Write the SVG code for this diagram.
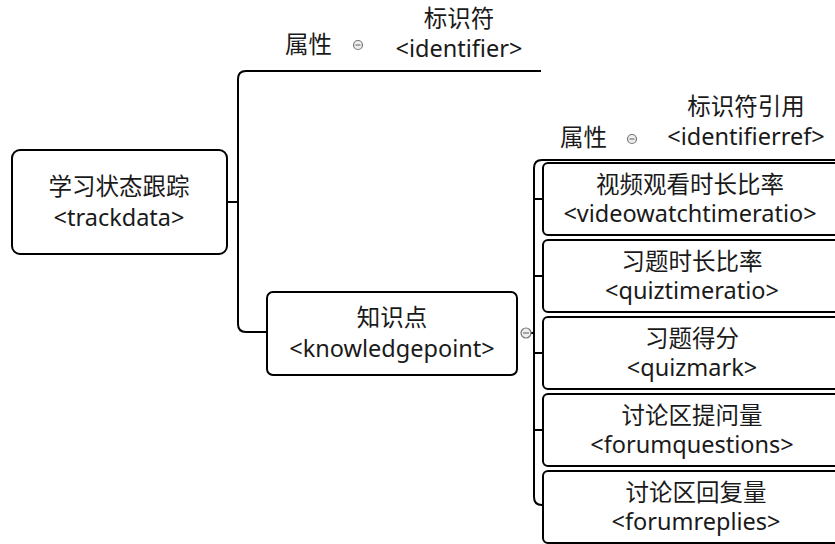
<svg xmlns="http://www.w3.org/2000/svg" width="835" height="544" viewBox="0 0 835 544">
<style>
.box{fill:#fff;stroke:#000;stroke-width:2}
.ln{fill:none;stroke:#000;stroke-width:2}
.t{font-family:"Noto Sans","Noto Sans CJK SC",sans-serif;font-size:23.5px;fill:#1a1a1a;text-anchor:middle}
.tl{font-family:"Noto Sans","Noto Sans CJK SC",sans-serif;font-size:23.5px;fill:#1a1a1a}
.tog{fill:#eee;stroke:#777;stroke-width:1.2}
.tm{stroke:#777;stroke-width:1.2}
</style>
<rect width="835" height="544" fill="#fff"/>
<g id="connectors">
<path class="ln" d="M227 202 H238"/>
<path class="ln" d="M541 71 H246 Q238 71 238 79 V324 Q238 332 246 332 H267"/>
<path class="ln" d="M531 333 H534"/>
<path class="ln" d="M835 160 H542 Q534 160 534 168 V497 Q534 505 542 505 H543"/>
<path class="ln" d="M534 199 H543 M534 276 H543 M534 353 H543 M534 430 H543"/>
</g>
<g id="root">
<rect class="box" x="12" y="150" width="215" height="104" rx="8"/>
<text class="t" x="119" y="195">学习状态跟踪</text>
<text class="t" x="119" y="226">&lt;trackdata&gt;</text>
</g>
<g id="attr1">
<text class="tl" x="285" y="53">属性</text>
<circle class="tog" cx="358" cy="45" r="4.5"/>
<path class="tm" d="M355.5 45 H360.5"/>
<text class="t" x="459" y="27">标识符</text>
<text class="t" x="459" y="57">&lt;identifier&gt;</text>
</g>
<g id="knowledgepoint">
<rect class="box" x="267" y="292" width="250" height="83" rx="6"/>
<text class="t" x="392" y="326">知识点</text>
<text class="t" x="392" y="357">&lt;knowledgepoint&gt;</text>
<circle class="tog" cx="526" cy="333" r="5"/>
<path class="tm" d="M523 333 H529"/>
</g>
<g id="attr2">
<text class="tl" x="560" y="146">属性</text>
<circle class="tog" cx="632" cy="139" r="4.5"/>
<path class="tm" d="M629.5 139 H634.5"/>
<text class="t" x="746" y="115">标识符引用</text>
<text class="t" x="746" y="145">&lt;identifierref&gt;</text>
</g>
<g id="videowatchtimeratio">
<rect class="box" x="543" y="163" width="300" height="72" rx="5"/>
<text class="t" x="690" y="193">视频观看时长比率</text>
<text class="t" x="690" y="222">&lt;videowatchtimeratio&gt;</text>
</g>
<g id="quiztimeratio">
<rect class="box" x="543" y="240" width="300" height="72" rx="5"/>
<text class="t" x="692" y="270">习题时长比率</text>
<text class="t" x="692" y="299">&lt;quiztimeratio&gt;</text>
</g>
<g id="quizmark">
<rect class="box" x="543" y="317" width="300" height="72" rx="5"/>
<text class="t" x="692" y="347">习题得分</text>
<text class="t" x="692" y="376">&lt;quizmark&gt;</text>
</g>
<g id="forumquestions">
<rect class="box" x="543" y="394" width="300" height="72" rx="5"/>
<text class="t" x="692" y="424">讨论区提问量</text>
<text class="t" x="692" y="453">&lt;forumquestions&gt;</text>
</g>
<g id="forumreplies">
<rect class="box" x="543" y="471" width="300" height="72" rx="5"/>
<text class="t" x="696" y="501">讨论区回复量</text>
<text class="t" x="696" y="530">&lt;forumreplies&gt;</text>
</g>
</svg>
